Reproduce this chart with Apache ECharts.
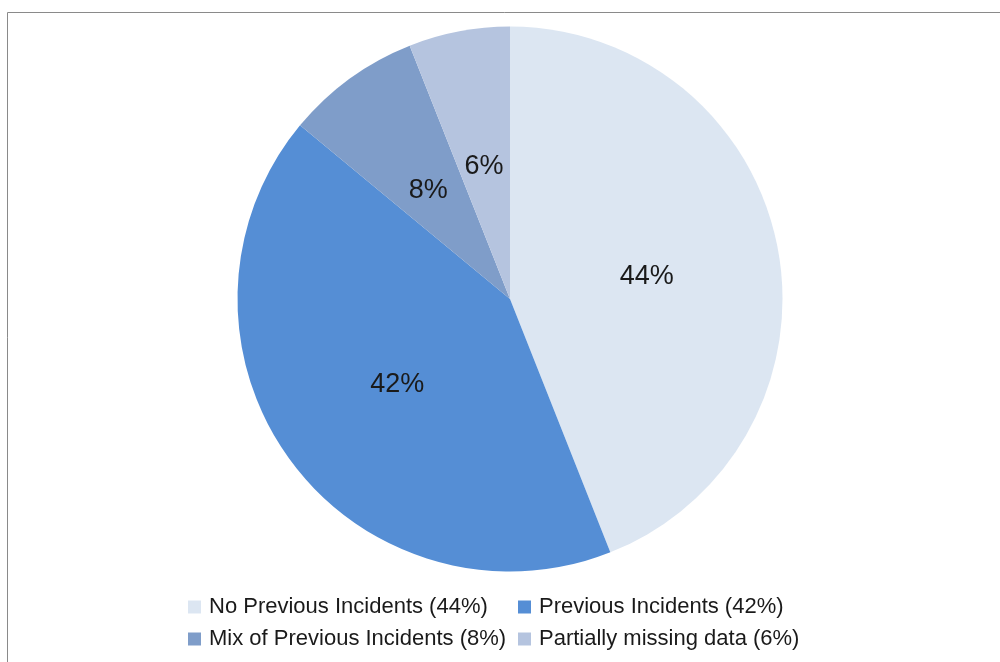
<!DOCTYPE html>
<html>
<head>
<meta charset="utf-8">
<title>Previous Incidents</title>
<script src="https://cdn.jsdelivr.net/npm/echarts@6/dist/echarts.min.js"></script>
<style>
  html, body { margin: 0; padding: 0; background: #ffffff; }
  #chart { width: 1000px; height: 662px; }
</style>
</head>
<body>
<div id="chart"></div>
<script>
// Share of cases by incident history (percent)
const categories = [
  'No Previous Incidents (44%)',
  'Previous Incidents (42%)',
  'Mix of Previous Incidents (8%)',
  'Partially missing data (6%)'
];
const shares = [44, 42, 8, 6];
const colors = ['#dce6f2', '#558ed5', '#7f9dc9', '#b5c4df'];

const chart = echarts.init(document.getElementById('chart'), null, { renderer: 'canvas' });

const legendText = {
  fontFamily: 'Liberation Sans, Arial, sans-serif',
  fontSize: 22,
  lineHeight: 22,
  color: '#1a1a1a',
  padding: [0, 0, 0, 3]
};

function columnLegend(left, names) {
  return {
    orient: 'vertical',
    left: left,
    top: 596,
    padding: 0,
    itemGap: 10,
    itemWidth: 13,
    itemHeight: 13,
    icon: 'rect',
    selectedMode: false,
    textStyle: legendText,
    data: names
  };
}

chart.setOption({
  animation: false,
  backgroundColor: '#ffffff',
  graphic: [{
    type: 'rect',
    silent: true,
    shape: { x: 7.5, y: 12.5, width: 1100, height: 1000 },
    style: { fill: 'none', stroke: '#8a8a8a', lineWidth: 1 }
  }],
  legend: [
    columnLegend(188, [categories[0], categories[2]]),
    columnLegend(518, [categories[1], categories[3]])
  ],
  series: [{
    type: 'pie',
    center: [510, 299],
    radius: [0, 272.5],
    startAngle: 90,
    clockwise: true,
    avoidLabelOverlap: false,
    silent: true,
    itemStyle: { borderWidth: 0 },
    label: {
      show: true,
      position: 'inside',
      formatter: '{c}%',
      offset: [0, 4],
      fontFamily: 'Liberation Sans, Arial, sans-serif',
      fontSize: 27,
      color: '#1a1a1a'
    },
    labelLine: { show: false },
    data: categories.map((name, i) => ({
      name: name,
      value: shares[i],
      itemStyle: { color: colors[i] }
    }))
  }]
});
</script>
</body>
</html>
